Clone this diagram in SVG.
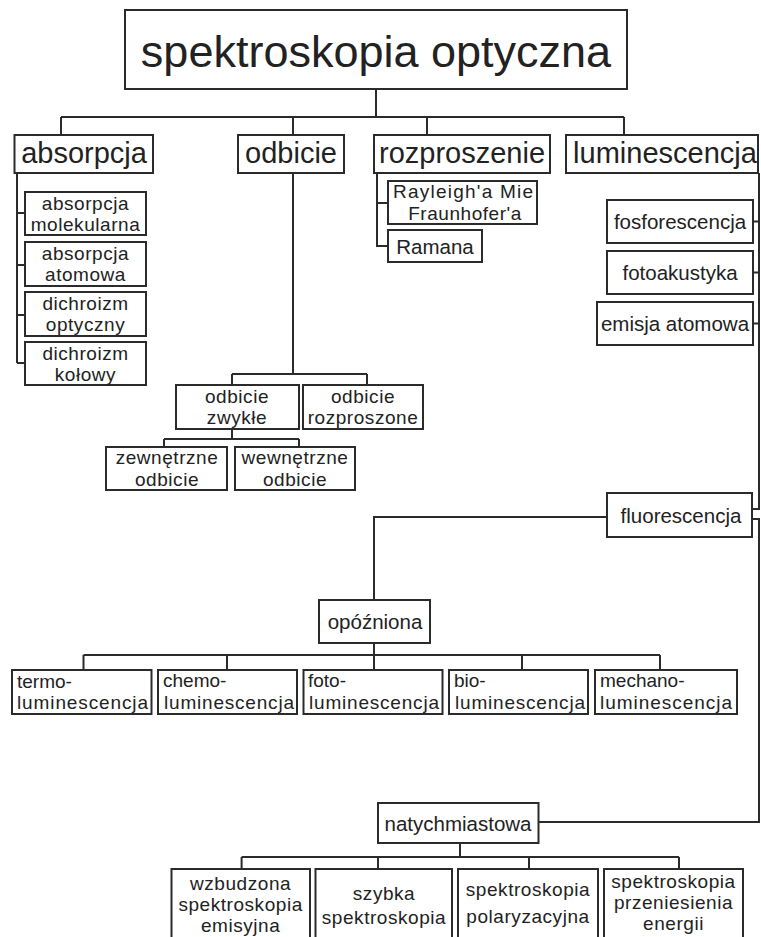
<svg xmlns="http://www.w3.org/2000/svg" width="761" height="937" viewBox="0 0 761 937">
<style>
  rect { fill: #fff; stroke: #2b2b2b; stroke-width: 2; }
  text { font-family: "Liberation Sans", Arial, sans-serif; fill: #222; font-size: 20.5px; text-anchor: middle; }
  .t0 { font-size: 45px; }
  .t1 { font-size: 29px; }
  .s { font-size: 19px; letter-spacing: 0.55px; }
  .l { text-anchor: start; font-size: 19px; }
  #connectors path { fill: none; stroke: #2b2b2b; stroke-width: 2; }
</style>
<rect x="0" y="0" width="761" height="937" style="fill:#fff;stroke:none"/>
<g id="connectors">
  <path d="M376 89V117M61 117H624M61 117V135M293 117V135M427 117V135M624 117V135"/>
  <path d="M17 173V363M17 213H25M17 265H25M17 315H25M17 363H25"/>
  <path d="M377 173V246H388M377 203H388"/>
  <path d="M759 173V509H752M753 221.5H759M753 272.5H759M753 323.5H759"/>
  <path d="M752 519H759V822H538.5"/>
  <path d="M293 173V374M232 374H367M232 374V385M367 374V385"/>
  <path d="M232 429V439M164 439H299M164 439V447M299 439V447"/>
  <path d="M607 517H374V600"/>
  <path d="M374 643V655M83.5 655H660M83.5 655V670M227 655V670M374 655V670M522 655V670M660 655V670"/>
  <path d="M460 843V857M241.6 857H679M241.6 857V869M378 857V869M529 857V869M679 857V869"/>
</g>
<g id="n-title"><rect x="125" y="10" width="502" height="79"/><text class="t0" x="376" y="67">spektroskopia optyczna</text></g>
<g id="n-absorpcja"><rect x="14.5" y="135" width="138.5" height="38"/><text class="t1" x="84" y="163">absorpcja</text></g>
<g id="n-odbicie"><rect x="238" y="135" width="106" height="38"/><text class="t1" x="291" y="163">odbicie</text></g>
<g id="n-rozproszenie"><rect x="374" y="135" width="176" height="38"/><text class="t1" x="462" y="163">rozproszenie</text></g>
<g id="n-luminescencja"><rect x="566" y="135" width="192" height="38"/><text class="t1" x="665" y="163">luminescencja</text></g>

<g id="n-abs-mol"><rect x="25" y="192" width="121" height="43"/><text class="s" x="85.5" y="209.5">absorpcja<tspan x="85.5" dy="21.2">molekularna</tspan></text></g>
<g id="n-abs-at"><rect x="25" y="242" width="121" height="44"/><text class="s" x="85.5" y="259.5">absorpcja<tspan x="85.5" dy="21.2">atomowa</tspan></text></g>
<g id="n-dich-opt"><rect x="25" y="292" width="121" height="44"/><text class="s" x="85.5" y="309.5">dichroizm<tspan x="85.5" dy="21.2">optyczny</tspan></text></g>
<g id="n-dich-kol"><rect x="25" y="342" width="121" height="43"/><text class="s" x="85.5" y="359.5">dichroizm<tspan x="85.5" dy="21.2">kołowy</tspan></text></g>

<g id="n-rayleigh"><rect x="388" y="181" width="149" height="43"/><text class="s" x="463" y="198.3"><tspan x="393" style="text-anchor:start;letter-spacing:0" textLength="140">Rayleigh'a Mie</tspan><tspan x="465" dy="21.2">Fraunhofer'a</tspan></text></g>
<g id="n-ramana"><rect x="388" y="230" width="94" height="32"/><text x="435" y="253.5">Ramana</text></g>

<g id="n-fosfor"><rect x="607" y="200" width="146" height="43"/><text x="680" y="229">fosforescencja</text></g>
<g id="n-fotoak"><rect x="607" y="251" width="146" height="43"/><text x="680" y="280">fotoakustyka</text></g>
<g id="n-emisja"><rect x="597" y="302" width="156" height="43"/><text x="675" y="331">emisja atomowa</text></g>

<g id="n-odb-zw"><rect x="176" y="385" width="123" height="44"/><text class="s" x="237" y="402.5">odbicie<tspan x="237" dy="21.2">zwykłe</tspan></text></g>
<g id="n-odb-roz"><rect x="303" y="385" width="120" height="44"/><text class="s" x="363" y="402.5">odbicie<tspan x="363" dy="21.2">rozproszone</tspan></text></g>
<g id="n-zewn"><rect x="106" y="447" width="121" height="43"/><text class="s" x="167" y="464.3">zewnętrzne<tspan x="167" dy="21.2">odbicie</tspan></text></g>
<g id="n-wewn"><rect x="235" y="447" width="120" height="43"/><text class="s" x="295" y="464.3">wewnętrzne<tspan x="295" dy="21.2">odbicie</tspan></text></g>

<g id="n-fluor"><rect x="607" y="493" width="145" height="44"/><text x="681" y="522.5">fluorescencja</text></g>
<g id="n-opozn"><rect x="319" y="600" width="111" height="43"/><text x="375" y="629">opóźniona</text></g>

<g id="n-termo"><rect x="12" y="670" width="139.5" height="44"/><text class="l" x="17" y="687.5">termo-<tspan x="17" dy="21.2" textLength="131">luminescencja</tspan></text></g>
<g id="n-chemo"><rect x="158" y="670" width="139" height="44"/><text class="l" x="163" y="687.3">chemo-<tspan x="164" dy="21.2" textLength="130">luminescencja</tspan></text></g>
<g id="n-foto"><rect x="303.5" y="670" width="139" height="44"/><text class="l" x="308" y="687.3">foto-<tspan x="309" dy="21.2" textLength="130">luminescencja</tspan></text></g>
<g id="n-bio"><rect x="449" y="670" width="139" height="44"/><text class="l" x="454" y="687.3">bio-<tspan x="455" dy="21.2" textLength="130">luminescencja</tspan></text></g>
<g id="n-mechano"><rect x="595" y="670" width="142" height="44"/><text class="l" x="600" y="687.3">mechano-<tspan x="600" dy="21.2" textLength="132">luminescencja</tspan></text></g>

<g id="n-natych"><rect x="378" y="803" width="160.5" height="40"/><text x="458" y="830.5">natychmiastowa</text></g>
<g id="n-wzbudz"><rect x="171.5" y="869" width="138.5" height="80"/><text class="s" x="240.6" y="889.5">wzbudzona<tspan x="240.6" dy="21.2">spektroskopia</tspan><tspan x="240.6" dy="21.2">emisyjna</tspan></text></g>
<g id="n-szybka"><rect x="315.5" y="869" width="136.5" height="80"/><text class="s" x="384" y="899.5">szybka<tspan x="384" dy="24.5">spektroskopia</tspan></text></g>
<g id="n-polar"><rect x="458" y="869" width="140" height="80"/><text class="s" x="528" y="896">spektroskopia<tspan x="528" dy="27">polaryzacyjna</tspan></text></g>
<g id="n-przen"><rect x="604" y="869" width="139" height="80"/><text class="s" x="673.5" y="887.5">spektroskopia<tspan x="673.5" dy="21.2">przeniesienia</tspan><tspan x="673.5" dy="21.2">energii</tspan></text></g>
</svg>
